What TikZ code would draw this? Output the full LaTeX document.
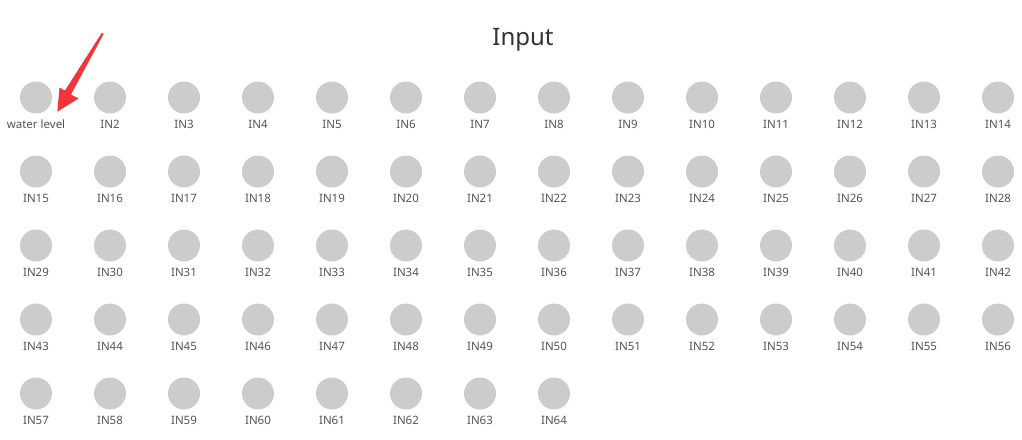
\documentclass[tikz,border=0pt]{standalone}
\usepackage{fontspec}
\setmainfont{Noto Sans}
\definecolor{dotgray}{HTML}{CCCCCC}
\definecolor{labgray}{HTML}{555555}
\definecolor{titlegray}{HTML}{333333}
\definecolor{arrowred}{HTML}{F5343A}
\begin{document}
\begin{tikzpicture}[x=1pt,y=-1pt,
  dot/.style={circle,fill=dotgray,draw=none,minimum size=32pt,inner sep=0pt},
  lab/.style={text=labgray,font=\fontsize{11.5}{12}\selectfont,inner sep=0pt,anchor=center},
  ttl/.style={text=titlegray,font=\fontsize{24}{28}\selectfont,inner sep=0pt}]
\useasboundingbox (0,0) rectangle (1022,439);
\fill[white] (0,0) rectangle (1022,439);
\node[ttl] (title) at (523,40) {Input};
\foreach \n in {1,...,64}{
  \pgfmathtruncatemacro{\c}{mod(\n-1,14)}
  \pgfmathtruncatemacro{\r}{div(\n-1,14)}
  \pgfmathsetmacro{\xx}{36+74*\c}
  \pgfmathsetmacro{\yy}{97.5+74*\r}
  \node[dot] (c\n) at (\xx,\yy) {};
  \ifnum\n=1
    \node[lab] (l\n) at (\xx,\yy+26.5) {water level};
  \else
    \node[lab] (l\n) at (\xx,\yy+26.5) {IN\n};
  \fi
}
% red annotation arrow
\coordinate (atail) at (102.7,33);
\coordinate (atip) at (57.3,111.7);
\fill[arrowred] (atail) -- (103.6,34) -- (71,94.5) -- (78.5,98.5) -- (atip) -- (59.5,87.5) -- (65,90.5) -- (101.7,33) -- cycle;
\end{tikzpicture}
\end{document}
